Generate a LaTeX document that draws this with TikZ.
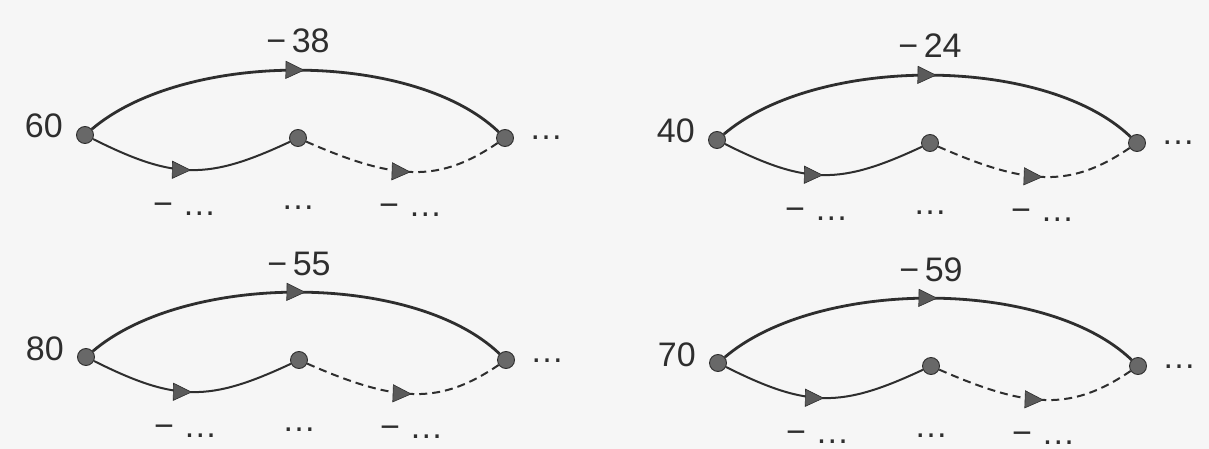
\documentclass[tikz,border=0pt]{standalone}
\usepackage{fontspec}
\setmainfont{Liberation Sans}
\usetikzlibrary{arrows.meta,decorations.markings}
\definecolor{bgc}{HTML}{F6F6F6}
\definecolor{ink}{HTML}{2E2E2E}
\definecolor{dotfill}{HTML}{686868}
\definecolor{tipfill}{HTML}{5A5A5A}
\tikzset{
  vertex/.style={circle,minimum size=17pt,inner sep=0pt,fill=dotfill,draw=ink,line width=0.9pt},
  txt/.style={inner sep=0pt,text=ink,text depth=0pt,font=\fontsize{34}{38}\selectfont},
  tipmark/.style={postaction={decorate},decoration={markings,mark=at position #1 with {\arrow{Triangle[length=19pt,width=18pt,line width=0.6pt,fill=tipfill]}}}},
  bigarc/.style={draw=ink,line width=2.8pt,tipmark=#1},
  smallarc/.style={draw=ink,line width=2pt,tipmark=#1},
  dasharc/.style={draw=ink,line width=2pt,dash pattern=on 8pt off 5pt,tipmark=#1}
}
\newcommand\cmpdiag[5]{%
  \begin{scope}[shift={(#2,#3)}]
    \node[vertex] (#1a) at (0,0) {};
    \node[vertex] (#1b) at (213,3) {};
    \node[vertex] (#1c) at (420,3) {};
    \draw[bigarc=0.52] (#1a) .. controls (100,-85) and (328,-85) .. (#1c);
    \draw[smallarc=0.5] (#1a) .. controls (90,45) and (123,45) .. (#1b);
    \draw[dasharc=0.54] (#1b) .. controls (313,47) and (355,47) .. (#1c);
    \node[txt,anchor=base east] (#1start) at (-22,3) {#4};
    \node[txt,anchor=base] (#1top) at (213,-82) {−\,#5};
    \node[txt,anchor=base west] (#1end) at (444,5) {…};
    \node[txt,anchor=base west] (#1lowl) at (68,80) {− …};
    \node[txt,anchor=base] (#1lowm) at (213,74) {…};
    \node[txt,anchor=base west] (#1lowr) at (294,81) {− …};
  \end{scope}}
\begin{document}
\begin{tikzpicture}[x=1pt,y=-1pt]
  \fill[bgc] (0,0) rectangle (1209,449);
  \useasboundingbox (0,0) rectangle (1209,449);
  \cmpdiag{tl}{85}{135}{60}{38}
  \cmpdiag{tr}{717}{140}{40}{24}
  \cmpdiag{bl}{86}{357}{80}{55}
  \cmpdiag{br}{718}{363}{70}{59}
\end{tikzpicture}
\end{document}
